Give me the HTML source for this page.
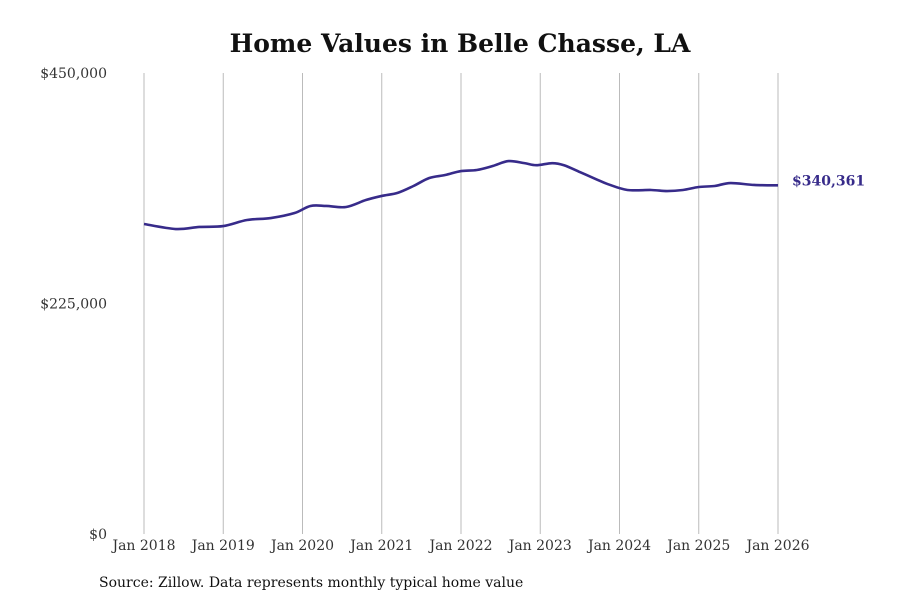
<!DOCTYPE html>
<html><head><meta charset="utf-8"><style>
body{margin:0;background:#fff;}
svg{display:block;font-family:"DejaVu Serif","Liberation Serif",serif;}
</style></head><body>
<svg id="chart" width="900" height="600">
<text x="460" y="52" text-anchor="middle" font-size="25" font-weight="bold" fill="#111">Home Values in Belle Chasse, LA</text>
<g id="grid"></g><g id="yaxis"></g><g id="xaxis"></g><g id="series"></g>
<text x="99" y="587" font-size="14" fill="#111">Source: Zillow. Data represents monthly typical home value</text>
</svg>
<script>
const dates=[2018.0,2018.4,2018.7,2019.0,2019.3,2019.6,2019.9,2020.1,2020.3,2020.55,2020.8,2021.0,2021.2,2021.4,2021.6,2021.8,2022.0,2022.2,2022.4,2022.6,2022.8,2022.95,2023.15,2023.3,2023.5,2023.7,2023.85,2024.1,2024.4,2024.6,2024.8,2025.0,2025.2,2025.4,2025.7,2026.0];
const values=[302600,297700,299700,300600,306500,308400,313300,320200,320200,319200,326000,330000,333000,339700,347500,350400,354300,355300,359200,364000,362000,360000,362000,360000,353300,346500,341600,335800,335800,334800,335800,338700,339700,342600,340700,340361];
const yTicks=[0,225000,450000];
const yTickLabels=["$0","$225,000","$450,000"];
const xTicks=[2018,2019,2020,2021,2022,2023,2024,2025,2026];
const xTickLabels=xTicks.map(y=>"Jan "+y);
const lastLabel="$340,361";
const NS="http://www.w3.org/2000/svg";
const X=d=>144+(d-2018)*(778-144)/8;
const Y=v=>534-v*(534-73)/450000;
function mk(t,a,p){const e=document.createElementNS(NS,t);for(const k in a)e.setAttribute(k,a[k]);p.appendChild(e);return e;}
const grid=document.getElementById('grid'),ya=document.getElementById('yaxis'),xa=document.getElementById('xaxis'),se=document.getElementById('series');
xTicks.forEach((d,i)=>{
 const l=mk('line',{x1:X(d),x2:X(d),y1:73,y2:534,stroke:'#bbb','stroke-width':1},grid);
 
 
 const t=mk('text',{x:X(d),y:550,'text-anchor':'middle','font-size':14,fill:'#333'},xa);
 t.textContent=xTickLabels[i];
 
 
});
yTicks.forEach((v,i)=>{
 const t=mk('text',{x:107,y:Y(v)+5,'text-anchor':'end','font-size':14,fill:'#333'},ya);
 t.textContent=yTickLabels[i];
 
 
});
const pts=dates.map((d,i)=>[X(d),Y(values[i])]);
let p='M'+pts[0][0]+','+pts[0][1];
for(let i=0;i<pts.length-1;i++){
 const p0=pts[Math.max(0,i-1)],p1=pts[i],p2=pts[i+1],p3=pts[Math.min(pts.length-1,i+2)];
 const c1=[p1[0]+(p2[0]-p0[0])/6,p1[1]+(p2[1]-p0[1])/6],c2=[p2[0]-(p3[0]-p1[0])/6,p2[1]-(p3[1]-p1[1])/6];
 p+=`C${c1[0]},${c1[1]} ${c2[0]},${c2[1]} ${p2[0]},${p2[1]}`;
}
const path=mk('path',{d:p,fill:'none',stroke:'#372b8a','stroke-width':2.6},se);


const lp=pts[pts.length-1];
const lt=mk('text',{x:lp[0]+14,y:lp[1]+0,'font-size':14,'font-weight':'bold',fill:'#372b8a'},se);
lt.textContent=lastLabel;


</script>
</body></html>
